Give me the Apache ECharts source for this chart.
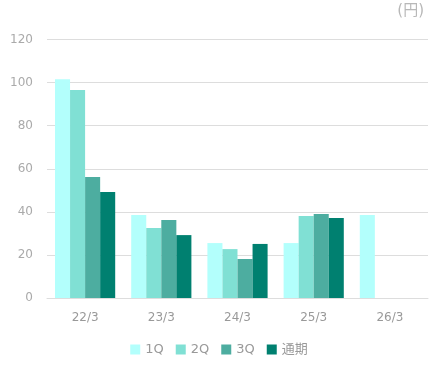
<!DOCTYPE html>
<html><head><meta charset="utf-8">
<script src="https://cdn.jsdelivr.net/npm/echarts@6/dist/echarts.min.js"></script>
<style>html,body{margin:0;padding:0;background:#fff}#c{width:438px;height:373px}</style>
</head><body><div id="c"></div>
<script>
const categories = ['22/3','23/3','24/3','25/3','26/3'];
const q1 = [101.6, 38.5, 25.5, 25.5, 38.5];
const q2 = [96.6, 32.5, 22.7, 38.1, null];
const q3 = [56.2, 36.2, 18.1, 39.0, null];
const fy = [49.2, 29.2, 25.1, 37.1, null];
const seriesNames = ['1Q','2Q','3Q','通期'];
const colors = ['#b3fffc','#80e0d4','#4dada0','#008070'];
const font = 'DejaVu Sans, Verdana, "Noto Sans CJK JP", sans-serif';
const chart = echarts.init(document.getElementById('c'));
chart.setOption({
  animation:false,
  color: colors,
  textStyle:{fontFamily:font},
  graphic:[{type:'text', right:14, top:4, style:{text:'(円)', fill:'#b8b8b8', font:'15px '+font}}],
  grid:{left:47, right:10, top:39.5, bottom:75},
  legend:{bottom:12, left:'center', itemWidth:10, itemHeight:10, itemGap:12, icon:'rect',
    textStyle:{color:'#999', fontSize:13, fontFamily:font},
    data: seriesNames},
  xAxis:{type:'category', data:categories,
    axisLine:{lineStyle:{color:'#ddd'}}, axisTick:{show:false},
    axisLabel:{color:'#999', fontSize:12, margin:14}},
  yAxis:{type:'value', min:0, max:120, interval:20,
    axisLine:{show:false}, axisTick:{show:false},
    splitLine:{lineStyle:{color:'#ddd'}},
    axisLabel:{color:'#aaa', fontSize:12, margin:14}},
  series:[q1,q2,q3,fy].map((d,i)=>({name:seriesNames[i], type:'bar', data:d, barGap:'0%', barCategoryGap:'21%'}))
});
</script></body></html>
